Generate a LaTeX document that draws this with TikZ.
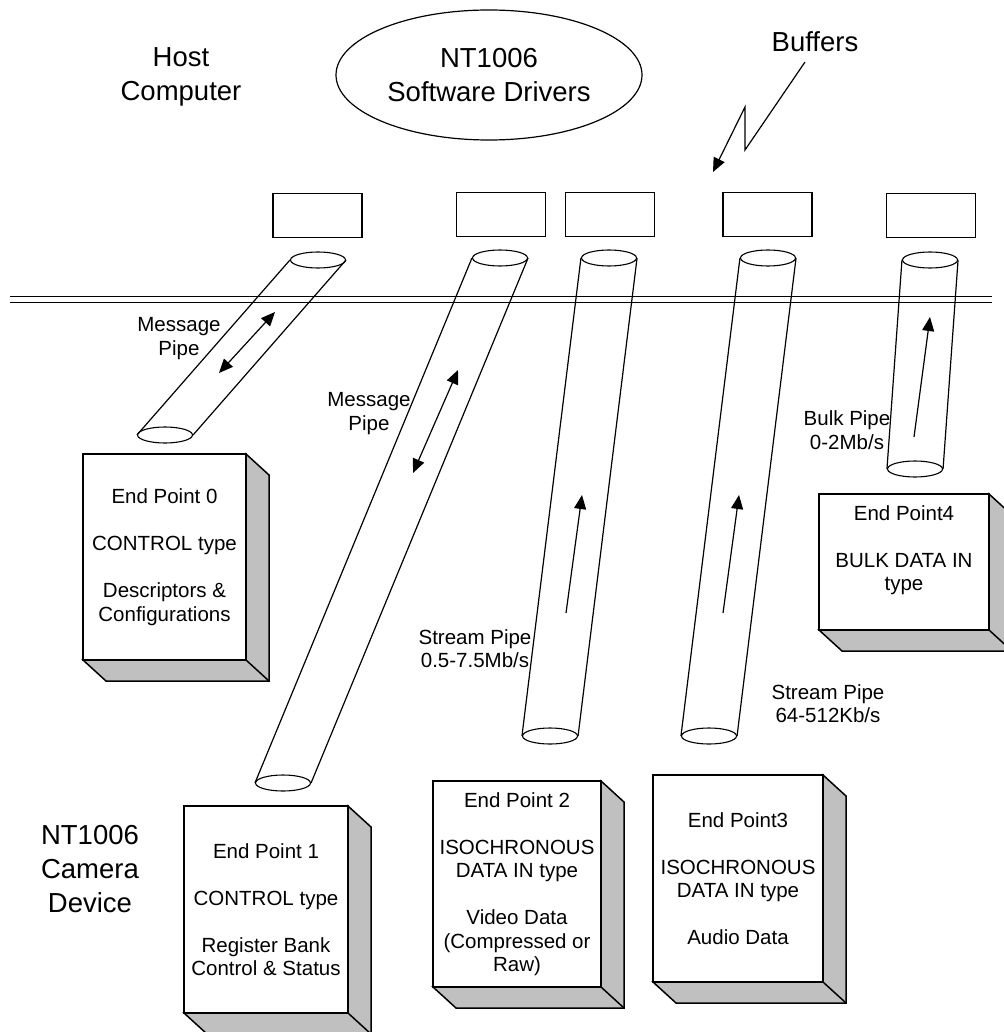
\documentclass[tikz,border=0pt]{standalone}
\usepackage{fontspec}
\setmainfont{Liberation Sans}
\usetikzlibrary{shapes.geometric,arrows.meta}
\definecolor{bevel}{RGB}{192,192,192}
\tikzset{>={Triangle[length=14pt,width=12pt]},
  big/.style={font=\fontsize{27.5}{34}\selectfont, align=center},
  small/.style={font=\fontsize{20.5}{23.5}\selectfont, align=center},
  buffer/.style={draw, line width=1.3pt, minimum width=89pt, minimum height=44pt, inner sep=0pt},
  pipeend/.style={draw, ellipse, line width=1.1pt, minimum width=55pt, minimum height=16pt, inner sep=0pt},
  front/.style={draw, small, line width=1.5pt, fill=white, inner sep=0pt, outer sep=0pt}}

\begin{document}
\begin{tikzpicture}[x=1pt,y=-1pt,line width=1.2pt]
\useasboundingbox (0,0) rectangle (1003,1032);
\node[big] (host) at (181,77) {Host\\Computer};
\node[big, draw, ellipse, line width=1.2pt, minimum width=306pt, minimum height=130pt, inner sep=0pt] (drivers) at (489,75) {NT1006\\Software Drivers};
\node[big] (buffers) at (815,42) {Buffers};
\node[big] (camera) at (90,869) {NT1006\\Camera\\Device};
\draw[->] (805,62) -- (745,150) -- (745,107) -- (713,172);
\draw[double, double distance=4.8pt] (10,299.5) -- (992,299.5);
\foreach \i/\x/\y in {0/317.5/215.5, 1/501/214.5, 2/610/214.5, 3/767.5/214.5, 4/931/215.5}
  \node[buffer] (buf\i) at (\x,\y) {};
\foreach \i/\tx/\ty/\bx/\by in {0/318/260/165/435, 1/500/258/283/783, 2/609/258/550/736, 3/768/258/709/736, 4/930/260/915/469} {
  \node[pipeend] (top\i) at (\tx,\ty) {};
  \node[pipeend] (bot\i) at (\bx,\by) {};
  \draw (top\i.west) -- (bot\i.west) (top\i.east) -- (bot\i.east);
}
\draw[<->] (219,373) -- (275,312);
\draw[<->] (413,473) -- (458,370);
\draw[->] (566,613) -- (582,495);
\draw[->] (723,613) -- (739,495);
\draw[->] (914,437) -- (930,317);
\node[small] (msg0) at (179,338.5) {Message\\Pipe};
\node[small] (msg1) at (369,413.5) {Message\\Pipe};
\node[small] (stream0) at (475,648.5) {Stream Pipe\\0.5-7.5Mb/s};
\node[small] (stream1) at (828,703.5) {Stream Pipe\\64-512Kb/s};
\node[small] (bulk) at (847,430) {Bulk Pipe\\0-2Mb/s};
\node[front, minimum width=163pt, minimum height=206pt] (ep0) at (164.5,557) {End Point 0\\[23.5pt]CONTROL type\\[23.5pt]Descriptors \&\\Configurations};
\node[front, minimum width=164pt, minimum height=207pt] (ep1) at (266,909.5) {End Point 1\\[23.5pt]CONTROL type\\[23.5pt]Register Bank\\Control \& Status};
\node[front, minimum width=168pt, minimum height=206pt] (ep2) at (517,884) {End Point 2\\[23.5pt]ISOCHRONOUS\\DATA IN type\\[23.5pt]Video Data\\(Compressed or\\Raw)};
\node[front, minimum width=170pt, minimum height=207pt] (ep3) at (738,878.5) {End Point3\\[23.5pt]ISOCHRONOUS\\DATA IN type\\[23.5pt]Audio Data};
\node[front, minimum width=170pt, minimum height=136pt, label={[small,yshift=12pt]center:{End Point4\\[23.5pt]BULK DATA IN\\type}}] (ep4) at (904,562) {};
\foreach \b in {ep0,ep1,ep2,ep3,ep4} {
  \filldraw[fill=bevel, line width=1.5pt] (\b.north east) -- ++(23,21) -- ([shift={(23,21)}]\b.south east) -- ([shift={(23,21)}]\b.south west) -- (\b.south west) -- (\b.south east) -- cycle;
  \draw[line width=1.5pt] (\b.south east) -- ++(23,21);
}
\end{tikzpicture}
\end{document}
